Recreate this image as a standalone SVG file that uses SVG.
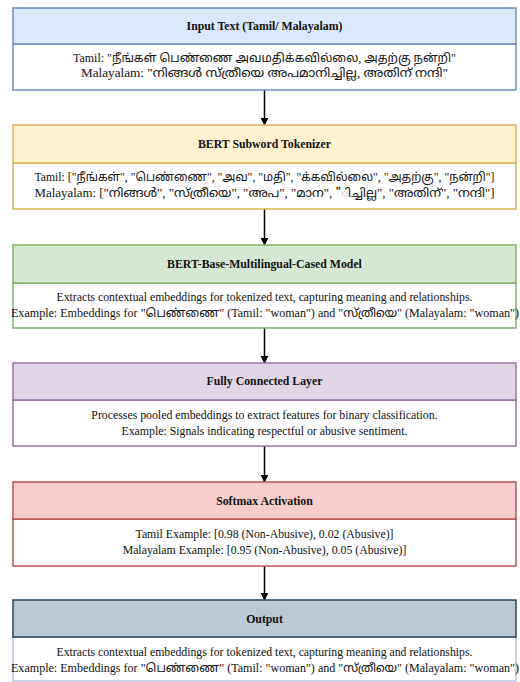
<svg xmlns="http://www.w3.org/2000/svg" width="520" height="682" viewBox="0 0 520 682">
<defs>
<marker id="arr" viewBox="0 0 10 10" refX="9" refY="5" markerWidth="8" markerHeight="8" markerUnits="userSpaceOnUse" orient="auto">
<path d="M0,0 L10,5 L0,10 z" fill="#000"/>
</marker>
</defs>
<style>
text{font-family:"Liberation Serif","Noto Sans Tamil","Noto Sans Malayalam","Times New Roman",serif;font-size:11.8px;fill:#111;text-anchor:middle;dominant-baseline:central}
.h{font-weight:bold}
.body{fill:#fff;stroke-width:1.5}
.hd{stroke-width:1.5}
.conn line{stroke:#000;stroke-width:1.5;marker-end:url(#arr)}
</style>
<rect width="520" height="682" fill="#fff"/>
<g class="conn">
<line x1="264.5" y1="90" x2="264.5" y2="125"/>
<line x1="264.5" y1="209" x2="264.5" y2="245"/>
<line x1="264.5" y1="328" x2="264.5" y2="363"/>
<line x1="264.5" y1="446" x2="264.5" y2="482"/>
<line x1="264.5" y1="566" x2="264.5" y2="600"/>
</g>
<g id="input">
<rect class="body" x="13" y="44" width="503" height="46" stroke="#6c8ebf"/>
<rect class="hd" x="13" y="8" width="503" height="36" fill="#dae8fc" stroke="#6c8ebf"/>
<text class="h" x="264.5" y="26">Input Text (Tamil/ Malayalam)</text>
<text x="264.5" y="58" textLength="383" lengthAdjust="spacingAndGlyphs">Tamil: "நீங்கள் பெண்ணை அவமதிக்கவில்லை, அதற்கு நன்றி"</text>
<text x="264.5" y="73" textLength="367" lengthAdjust="spacingAndGlyphs">Malayalam: "നിങ്ങൾ സ്ത്രീയെ അപമാനിച്ചില്ല, അതിന് നന്ദി"</text>
</g>
<g id="tokenizer">
<rect class="body" x="13" y="163" width="503" height="46" stroke="#d6b656"/>
<rect class="hd" x="13" y="125" width="503" height="38" fill="#fff2cc" stroke="#d6b656"/>
<text class="h" x="264.5" y="144">BERT Subword Tokenizer</text>
<text x="264.5" y="177" textLength="460" lengthAdjust="spacingAndGlyphs">Tamil: ["நீங்கள்", "பெண்ணை", "அவ", "மதி", "க்கவில்லை", "அதற்கு", "நன்றி"]</text>
<text x="264.5" y="193" textLength="460" lengthAdjust="spacingAndGlyphs">Malayalam: ["നിങ്ങൾ", "സ്ത്രീയെ", "അപ", "മാന", "ിച്ചില്ല", "അതിന്", "നന്ദി"]</text>
</g>
<g id="model">
<rect class="body" x="13" y="283" width="503" height="45" stroke="#82b366"/>
<rect class="hd" x="13" y="245" width="503" height="38" fill="#d5e8d4" stroke="#82b366"/>
<text class="h" x="264.5" y="264">BERT-Base-Multilingual-Cased Model</text>
<text x="264.5" y="297" textLength="416" lengthAdjust="spacingAndGlyphs">Extracts contextual embeddings for tokenized text, capturing meaning and relationships.</text>
<text x="265" y="313" textLength="508" lengthAdjust="spacingAndGlyphs">Example: Embeddings for "பெண்ணை" (Tamil: "woman") and "സ്ത്രീയെ" (Malayalam: "woman")</text>
</g>
<g id="fc">
<rect class="body" x="13" y="400" width="503" height="46" stroke="#9673a6"/>
<rect class="hd" x="13" y="363" width="503" height="37" fill="#e1d5e7" stroke="#9673a6"/>
<text class="h" x="264.5" y="381">Fully Connected Layer</text>
<text x="264.5" y="415">Processes pooled embeddings to extract features for binary classification.</text>
<text x="264.5" y="431">Example: Signals indicating respectful or abusive sentiment.</text>
</g>
<g id="softmax">
<rect class="body" x="13" y="519" width="503" height="47" stroke="#b85450"/>
<rect class="hd" x="13" y="482" width="503" height="37" fill="#f8cecc" stroke="#b85450"/>
<text class="h" x="264.5" y="501">Softmax Activation</text>
<text x="264.5" y="534">Tamil Example: [0.98 (Non-Abusive), 0.02 (Abusive)]</text>
<text x="264.5" y="550">Malayalam Example: [0.95 (Non-Abusive), 0.05 (Abusive)]</text>
</g>
<g id="output">
<rect class="body" x="13" y="637" width="503" height="44" stroke="#6c8ebf" stroke-opacity="0.5"/>
<rect class="hd" x="13" y="600" width="503" height="37" fill="#bac8d3" stroke="#23445d"/>
<text class="h" x="264.5" y="619">Output</text>
<text x="264.5" y="652" textLength="416" lengthAdjust="spacingAndGlyphs">Extracts contextual embeddings for tokenized text, capturing meaning and relationships.</text>
<text x="265" y="668" textLength="508" lengthAdjust="spacingAndGlyphs">Example: Embeddings for "பெண்ணை" (Tamil: "woman") and "സ്ത്രീയെ" (Malayalam: "woman")</text>
</g>
</svg>
